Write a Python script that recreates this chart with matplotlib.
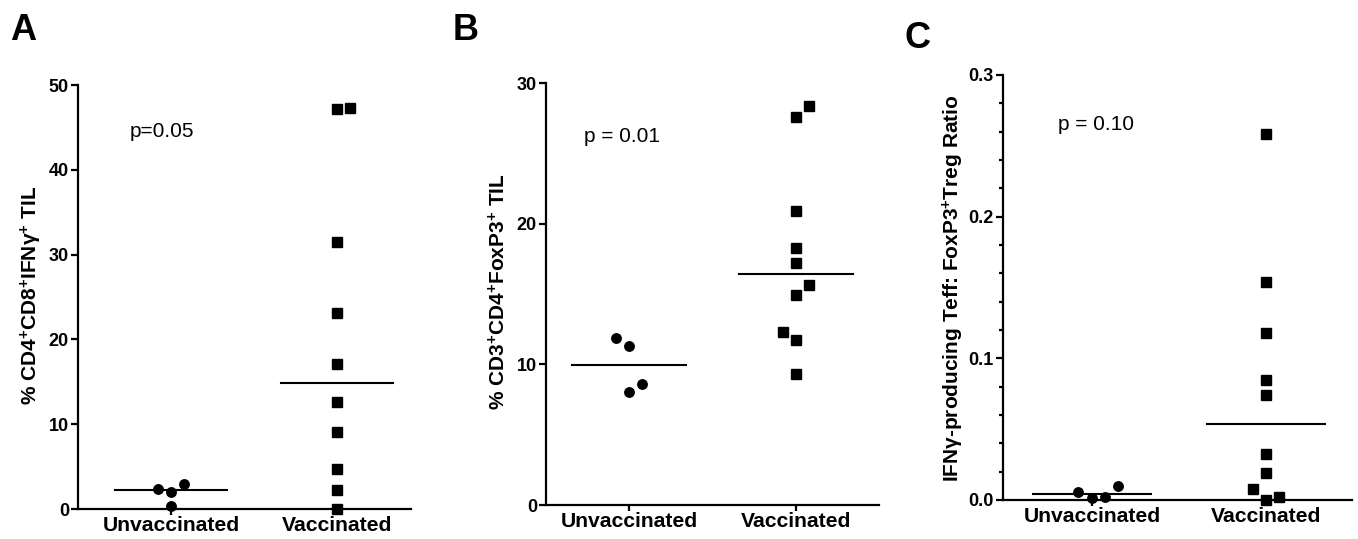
import numpy as np
import matplotlib
matplotlib.use('Agg')
import matplotlib.pyplot as plt
from matplotlib.ticker import MultipleLocator, FormatStrFormatter

plt.rcParams['font.family'] = 'Liberation Sans'
plt.rcParams['mathtext.fontset'] = 'custom'
plt.rcParams['mathtext.rm'] = 'Liberation Sans:bold'
plt.rcParams['mathtext.bf'] = 'Liberation Sans:bold'
plt.rcParams['mathtext.default'] = 'rm'

groups = ['Unvaccinated', 'Vaccinated']

# panel A: % CD4+CD8+IFNg+ TIL
a_unvac = [2.36, 2.03, 3.0, 0.32]
a_vac = [47.2, 47.3, 31.5, 23.1, 17.1, 12.6, 9.06, 4.75, 2.23, 0.0]
# panel B: % CD3+CD4+FoxP3+ TIL
b_unvac = [11.9, 11.27, 8.59, 8.05]
b_vac = [27.6, 28.4, 20.9, 18.3, 17.2, 15.66, 14.95, 12.3, 11.7, 9.34]
# panel C: Teff : Treg ratio
c_unvac = [0.0056, 0.0012, 0.0024, 0.0097]
c_vac = [0.258, 0.1538, 0.118, 0.0844, 0.0742, 0.0328, 0.019, 0.0078, 0.0, 0.0019]

p_texts = ['p=0.05', 'p = 0.01', 'p = 0.10']
ylabels = [r'% CD4$^{+}$CD8$^{+}$IFN$\mathregular{\gamma}^{+}$ TIL',
           r'% CD3$^{+}$CD4$^{+}$FoxP3$^{+}$ TIL',
           r'IFN$\gamma$-producing Teff: FoxP3$^{+}$Treg Ratio']
letters = ['A', 'B', 'C']

# horizontal scatter of overlapping points (layout, not data)
a_unvac_dx = [-0.08, 0, 0.08, 0]
a_vac_dx = [0, 0.08, 0, 0, 0, 0, 0, 0, 0, 0]
b_unvac_dx = [-0.08, 0, 0.08, 0]
b_vac_dx = [0, 0.08, 0, 0, 0, 0.08, 0, -0.08, 0, 0]
c_unvac_dx = [-0.08, 0, 0.075, 0.15]
c_vac_dx = [0, 0, 0, 0, 0, 0, 0, -0.075, 0, 0.075]

W, H = 1358, 539
fig = plt.figure(figsize=(W / 100, H / 100), dpi=100)


def px_axes(left, top, right, bottom):
    return fig.add_axes([left / W, 1 - bottom / H, (right - left) / W, (bottom - top) / H])


def scatter_panel(ax, unvac, vac, udx, vdx, ymax, xlim, ystep):
    ax.plot(1 + np.array(udx), unvac, 'o', color='black', ms=6.8, clip_on=False, zorder=3)
    ax.plot(2 + np.array(vdx), vac, 's', color='black', ms=6.5, clip_on=False, zorder=3)
    hw = 0.34
    for x, vals in [(1, unvac), (2, vac)]:
        m = np.median(vals)
        ax.plot([x - hw, x + hw], [m, m], color='black', lw=1.5, zorder=2)
    ax.set_xlim(*xlim)
    ax.set_ylim(0, ymax)
    ax.set_xticks([1, 2])
    ax.set_xticklabels(groups, fontsize=15.2, fontweight='bold')
    ax.yaxis.set_major_locator(MultipleLocator(ystep))
    for s in ['top', 'right']:
        ax.spines[s].set_visible(False)
    for s in ['left', 'bottom']:
        ax.spines[s].set_linewidth(1.6)
    ax.tick_params(axis='y', length=5, width=1.6, pad=1.5, labelsize=13)
    ax.tick_params(axis='x', length=4.5, width=1.6, pad=0.5)
    for lab in ax.get_yticklabels():
        lab.set_fontweight('bold')


axA = px_axes(78, 85, 411, 509)
scatter_panel(axA, a_unvac, a_vac, a_unvac_dx, a_vac_dx, 50, (0.44, 2.446), 10)
axA.text(0.75, 44.5, p_texts[0], fontsize=15, va='center')

axB = px_axes(546, 83, 879, 505)
scatter_panel(axB, b_unvac, b_vac, b_unvac_dx, b_vac_dx, 30, (0.503, 2.497), 10)
axB.text(0.73, 26.2, p_texts[1], fontsize=15, va='center')

axC = px_axes(1003, 75, 1352, 500)
scatter_panel(axC, c_unvac, c_vac, c_unvac_dx, c_vac_dx, 0.3, (0.49, 2.494), 0.1)
axC.yaxis.set_major_formatter(FormatStrFormatter('%.1f'))
axC.yaxis.set_minor_locator(MultipleLocator(0.02))
axC.tick_params(axis='y', which='minor', length=3, width=1.6)
for lab in axC.get_yticklabels():
    lab.set_fontweight('bold')
axC.text(0.806, 0.265, p_texts[2], fontsize=15, va='center')

# y labels and panel letters, placed in pixel positions
for xc, yc, lab in [(31, 295, ylabels[0]), (499, 292, ylabels[1]), (953, 288, ylabels[2])]:
    fig.text(xc / W, 1 - yc / H, lab, rotation=90, ha='center', va='center',
             fontsize=15, fontweight='bold')
for xl, yb, let in [(10, 39.5, 'A'), (453, 39.5, 'B'), (905, 47.5, 'C')]:
    fig.text(xl / W, 1 - yb / H, let, fontsize=26, fontweight='bold', va='baseline')

fig.savefig('out.png', dpi=100)
